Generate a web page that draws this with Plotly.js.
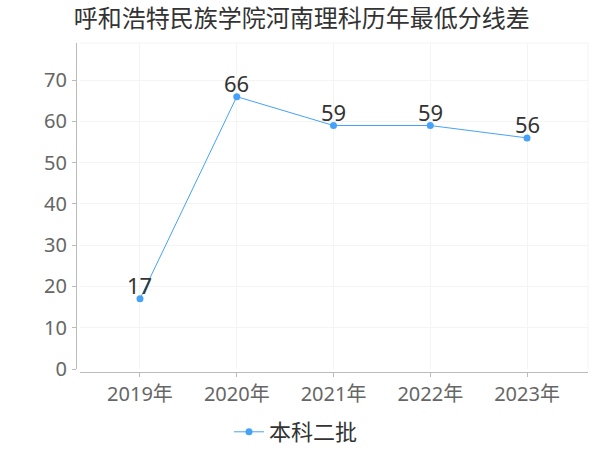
<!DOCTYPE html>
<html>
<head>
<meta charset="utf-8">
<script src="https://cdn.plot.ly/plotly-3.0.1.min.js"></script>
<style>html,body{margin:0;padding:0;background:#fff;}#chart{width:600px;height:450px;}</style>
</head>
<body>
<div id="chart"></div>
<script>
const titleText = '呼和浩特民族学院河南理科历年最低分线差';
const years = ['2019年', '2020年', '2021年', '2022年', '2023年'];
const seriesName = '本科二批';
const values = [17, 66, 59, 59, 56];
const yTicks = [0, 10, 20, 30, 40, 50, 60, 70];

const FONT = '"Noto Sans", "Noto Sans CJK SC", sans-serif';
const lineColor = '#45a2f8';

const trace = {
  type: 'scatter',
  mode: 'lines+markers',
  x: years,
  y: values,
  name: seriesName,
  line: {color: lineColor, width: 1},
  marker: {color: lineColor, size: 7},
  cliponaxis: false,
  hoverinfo: 'none'
};

const labels = years.map((yr, i) => ({
  x: yr, y: values[i], xref: 'x', yref: 'y',
  text: String(values[i]), showarrow: false,
  yanchor: 'middle', xanchor: 'center', yshift: 14,
  font: {family: FONT, size: 22, color: '#333'}
}));

const layout = {
  width: 600,
  height: 450,
  margin: {l: 76, r: 12, t: 43, b: 78, autoexpand: false},
  paper_bgcolor: '#fff',
  plot_bgcolor: '#fff',
  font: {family: FONT, color: '#666'},
  title: {
    text: titleText,
    font: {family: FONT, size: 24, color: '#333'},
    xref: 'container', x: 0.503, xanchor: 'center',
    yref: 'container', y: 1 - 19/450, yanchor: 'middle'
  },
  xaxis: {
    type: 'category',
    domain: [4/512, 1],
    anchor: 'free', position: 0,
    range: [-0.62, 4.63],
    showline: true, linecolor: '#bbb', linewidth: 1,
    ticks: 'outside', ticklen: 4, tickcolor: '#bbb',
    showgrid: true, gridcolor: '#f4f4f4', gridwidth: 1,
    tickfont: {family: FONT, size: 20, color: '#666'},
    automargin: false,
    zeroline: false, fixedrange: true
  },
  yaxis: {
    domain: [3/329, 1],
    anchor: 'free', position: 0,
    range: [0, 79],
    tickvals: yTicks,
    showline: true, linecolor: '#bbb', linewidth: 1,
    ticks: 'outside', ticklen: 4, tickcolor: '#bbb',
    showgrid: true, gridcolor: '#f4f4f4', gridwidth: 1,
    tickfont: {family: FONT, size: 20, color: '#666'},
    ticklabelstandoff: 1,
    automargin: false,
    zeroline: false, fixedrange: true
  },
  showlegend: true,
  legend: {
    orientation: 'h',
    x: (296 - 76) / 512, xanchor: 'center',
    y: (372 - 432) / 329, yanchor: 'middle',
    font: {family: FONT, size: 22, color: '#333'},
    itemwidth: 30
  },
  annotations: labels,
  shapes: [
    {type: 'line', xref: 'x domain', yref: 'y domain', x0: 0, x1: 1, y0: 1, y1: 1, line: {color: '#f4f4f4', width: 1}},
    {type: 'line', xref: 'x domain', yref: 'y domain', x0: 1, x1: 1, y0: 0, y1: 1, line: {color: '#f4f4f4', width: 1}}
  ]
};

Plotly.newPlot('chart', [trace], layout, {displayModeBar: false, staticPlot: true});
</script>
</body>
</html>
